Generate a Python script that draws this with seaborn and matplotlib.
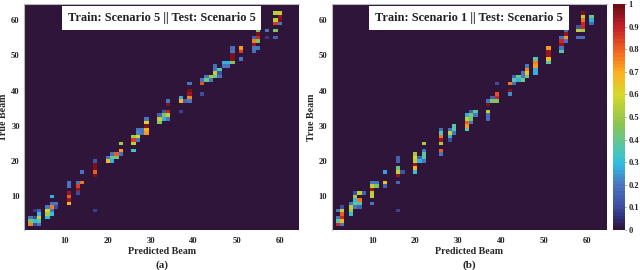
import numpy as np
import pandas as pd
import matplotlib
matplotlib.use("Agg")
import matplotlib.pyplot as plt
from matplotlib.colors import LinearSegmentedColormap
import seaborn as sns

n_beams = 64
tick_beams = [10, 20, 30, 40, 50, 60]
cbar_ticks = [0, 0.1, 0.2, 0.3, 0.4, 0.5, 0.6, 0.7, 0.8, 0.9, 1]
cbar_labels = ["0", "0.1", "0.2", "0.3", "0.4", "0.5", "0.6", "0.7", "0.8", "0.9", "1"]
title_a = "Train: Scenario 5 || Test: Scenario 5"
title_b = "Train: Scenario 1 || Test: Scenario 5"

# (predicted beam, true beam, value)
cells_a = [
    (2,2,.75),(2,3,.45),(2,4,.2),(3,2,.1),(3,3,.3),(3,4,.1),(3,6,.07),
    (4,2,.2),(4,3,.35),(4,4,.55),(4,5,.3),(4,6,.15),
    (6,4,.3),(6,5,.5),(6,6,.6),(6,7,.2),(7,5,.3),(7,6,.2),(7,7,.75),(7,8,.2),
    (8,7,.1),(8,8,.2),(7,10,.28),
    (11,8,.7),(11,9,.95),(11,10,.8),(11,11,.95),(11,13,.2),(11,14,.2),
    (13,14,.2),(13,13,.85),(13,12,.95),(13,11,.1),(14,14,.78),(14,17,.2),
    (17,20,.12),(17,19,.97),(17,18,.97),(17,17,.8),(17,16,.97),(17,6,.08),
    (20,20,.68),(20,21,.2),(21,20,.28),(21,21,.4),(21,22,.18),
    (22,21,.42),(22,22,.8),(23,22,.18),(23,23,.72),(23,25,.52),
    (26,23,.33),(26,25,.55),(26,26,.85),(26,27,.5),
    (27,26,.2),(27,27,.6),(27,28,.22),(27,29,.2),(28,28,.2),(28,29,.2),
    (29,28,.72),(29,29,.7),(29,30,.97),(29,31,.62),(29,32,.2),
    (32,33,.15),(32,32,.55),(32,31,.45),(33,34,.12),(33,33,.45),(33,32,.28),
    (34,34,.9),(34,33,.55),(34,32,.2),(34,36,.97),(34,37,.2),
    (37,38,.28),(37,37,.7),(37,34,.08),(38,37,.15),
    (39,37,.2),(39,38,.75),(39,39,.95),(39,40,.97),(39,42,.2),
    (42,39,.1),(42,42,.82),(42,43,.2),(43,43,.42),(43,44,.2),
    (44,44,.5),(44,43,.2),(45,44,.42),(45,45,.55),(45,46,.2),(45,47,.18),
    (46,45,.12),(46,44,.2),(46,46,.36),(47,47,.2),(47,48,.28),
    (48,47,.2),(48,48,.28),(49,48,.45),(49,49,.97),(49,50,.97),(49,51,.2),(49,52,.18),
    (51,52,.72),(51,51,.85),(51,49,.2),
    (54,51,.18),(54,52,.2),(54,53,.95),(54,54,.75),(54,55,.15),
    (55,52,.2),(55,54,.45),(55,55,.88),(55,56,.97),(55,57,.45),
    (57,57,.2),(57,55,.07),(59,57,.45),(59,55,.15),(59,59,.85),(59,60,.55),(59,62,.55),
    (60,59,.2),(60,60,.97),(60,61,.95),(60,62,.55),
]
cells_b = [
    (2,2,.88),(2,3,.38),(2,4,.2),(2,6,.2),
    (3,2,.2),(3,3,.7),(3,4,.88),(3,5,.8),(3,6,.55),(3,7,.1),
    (5,5,.3),(5,6,.5),(5,7,.55),(5,8,.2),
    (6,7,.2),(6,8,.38),(6,9,.3),(6,10,.5),(6,11,.1),
    (7,7,.15),(7,8,.35),(7,9,.78),(7,11,.55),(8,11,.15),
    (10,8,.2),(10,10,.55),(10,11,.55),(10,12,.95),(10,13,.55),(10,14,.2),
    (11,13,.45),(11,14,.2),(13,13,.15),(13,14,.65),(13,17,.25),
    (16,6,.08),(16,14,.17),(16,16,.95),(16,17,.55),(16,18,.42),(16,20,.15),(16,21,.15),(17,17,.12),
    (20,17,.3),(20,18,.7),(20,19,.95),(20,20,.55),(20,21,.6),(20,22,.5),
    (21,20,.28),(21,21,.15),(22,20,.2),(22,21,.35),(22,22,.38),(22,23,.2),(22,25,.52),
    (26,22,.2),(26,23,.8),(26,25,.52),(26,26,.95),(26,27,.78),(26,28,.36),(26,29,.18),
    (28,26,.1),(28,27,.28),(28,28,.55),(28,29,.18),(29,28,.2),(29,29,.36),(29,30,.36),
    (32,29,.36),(32,30,.72),(32,31,.8),(32,32,.55),(32,33,.28),
    (33,31,.2),(33,32,.45),(33,33,.42),(33,34,.15),(34,33,.2),(34,34,.38),
    (37,32,.18),(37,33,.18),(37,34,.55),(37,36,.97),(37,37,.2),
    (38,37,.45),(38,38,.15),(39,37,.45),(39,38,.88),(39,39,.82),(39,42,.1),
    (42,39,.22),(42,40,.97),(42,42,.78),(43,42,.18),(43,43,.36),(43,44,.15),
    (44,43,.28),(44,44,.38),(45,43,.42),(45,44,.2),(45,45,.2),
    (46,44,.42),(46,45,.65),(46,46,.75),(46,47,.2),
    (48,45,.28),(48,46,.28),(48,47,.72),(48,48,.75),(48,49,.37),
    (51,48,.36),(51,49,.66),(51,50,.95),(51,51,.95),(51,52,.72),
    (54,51,.36),(54,52,.2),(54,53,.95),(54,54,.88),(54,55,.18),
    (55,54,.2),(55,55,.72),(55,56,.95),(55,57,.18),
    (58,55,.18),(58,57,.55),(58,58,.12),(59,55,.18),(59,57,.5),(59,58,.88),(59,59,.88),
    (59,60,.78),(59,61,.55),(59,62,.97),(61,59,.18),(61,60,.28),(61,61,.42),
]

colors = ["#2f1539", "#2e2a70", "#3f4fa3", "#4a78c2", "#2fbde3", "#52c6ab", "#8cc44f",
          "#d6d82a", "#fdb020", "#f0621f", "#c6202a", "#6e0f15"]
stops = [0, 0.04, 0.1, 0.2, 0.29, 0.36, 0.47, 0.6, 0.7, 0.8, 0.9, 1]
cmap = LinearSegmentedColormap.from_list("beam", list(zip(stops, colors)), N=64)


def to_matrix(cells):
    df = pd.DataFrame(cells, columns=["pred", "true", "value"])
    beams = np.arange(1, n_beams + 1)
    return df.pivot(index="true", columns="pred", values="value").reindex(index=beams, columns=beams).fillna(0)


def draw_panel(ax, cells, title, xlabel, letter, cbar_ax=None):
    sns.heatmap(to_matrix(cells), ax=ax, cmap=cmap, vmin=0, vmax=1, cbar=cbar_ax is not None,
                cbar_ax=cbar_ax, xticklabels=False, yticklabels=False, linewidths=0)
    ax.invert_yaxis()
    ax.set_xticks([b - 0.5 for b in tick_beams])
    ax.set_yticks([b - 0.5 for b in tick_beams])
    ax.set_xticklabels(tick_beams, rotation=0, fontsize=6.2, fontweight="bold")
    ax.set_yticklabels(tick_beams, rotation=0, fontsize=6.2, fontweight="bold")
    ax.tick_params(axis="x", length=0, pad=5, colors="#222222")
    ax.tick_params(axis="y", length=0, pad=3, colors="#222222")
    ax.set_xlabel(xlabel, fontsize=7.2, fontweight="bold")
    ax.xaxis.set_label_coords(0.5, -0.097, transform=ax.transAxes)
    ax.xaxis.label.set_va("center")
    ax.set_ylabel("True Beam", fontsize=7.2, fontweight="bold")
    ax.yaxis.set_label_coords(-0.057, 0.5, transform=ax.transAxes)
    for side in ["left", "top"]:
        ax.spines[side].set_visible(True)
        ax.spines[side].set_color("#b8b8b8")
        ax.spines[side].set_linewidth(0.8)
    ax.text(0.5, 0.938, title, transform=ax.transAxes, ha="center", va="center", fontsize=8.9,
            fontweight="bold", color="#222222",
            bbox=dict(facecolor="white", edgecolor="none", boxstyle="square,pad=0.48"))
    ax.text(0.5, -0.155, letter, transform=ax.transAxes, ha="center", va="center",
            fontsize=8, fontweight="bold")


sns.set_theme(style="white")
plt.rcParams["font.family"] = ["Liberation Serif", "DejaVu Serif"]

W, H = 640, 270
fig = plt.figure(figsize=(6.4, 2.7), dpi=100)
ax_a = fig.add_axes([24 / W, 1 - 230 / H, 275 / W, 226 / H])
ax_b = fig.add_axes([331.5 / W, 1 - 230 / H, 275 / W, 226 / H])
cax = fig.add_axes([612.7 / W, 1 - 230 / H, 12.3 / W, 226 / H])

draw_panel(ax_a, cells_a, title_a, "Predicted Beam", "(a)")
draw_panel(ax_b, cells_b, title_b, "Predicted Beam", "(b)", cbar_ax=cax)

cax.set_yticks(cbar_ticks)
cax.set_yticklabels(cbar_labels, fontsize=6, fontweight="bold")
cax.tick_params(length=1, width=0.5, pad=1.5, colors="#222222")

fig.savefig("out.png", dpi=100)
